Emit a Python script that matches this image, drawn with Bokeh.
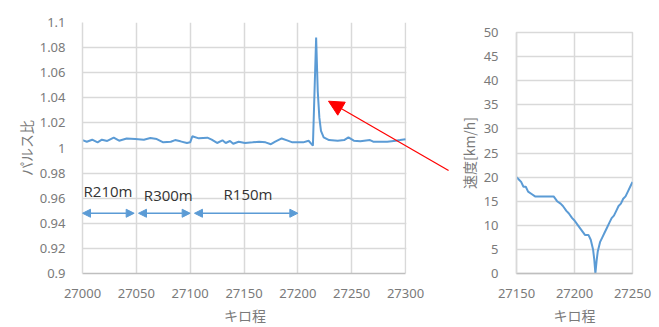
from bokeh.plotting import figure
from bokeh.layouts import row, column
from bokeh.models import (Range1d, FixedTicker, CustomJSTickFormatter, Arrow,
                          NormalHead, Label, BoxAnnotation)
from bokeh.embed import file_html
from bokeh.resources import INLINE

# ---- data: pulse ratio vs kilometrage ----
pulse_km = [27000, 27004, 27009, 27014, 27018, 27023, 27029, 27034, 27041, 27049,
            27057, 27063, 27069, 27075, 27082, 27086, 27091, 27097, 27100, 27102,
            27108, 27116, 27120, 27125, 27130, 27133, 27137, 27140, 27145, 27151,
            27158, 27164, 27170, 27175, 27179, 27185, 27190, 27195, 27200, 27205,
            27210, 27214, 27217, 27218.5, 27220, 27221.5, 27224, 27229, 27237, 27243,
            27247, 27252, 27258, 27267, 27270, 27283, 27291, 27295, 27300]
pulse_ratio = [1.0063, 1.0050, 1.0066, 1.0045, 1.0066, 1.0056, 1.0082, 1.0058, 1.0076, 1.0071,
               1.0066, 1.0079, 1.0071, 1.0045, 1.0050, 1.0063, 1.0053, 1.0040, 1.0045, 1.0093,
               1.0077, 1.0082, 1.0066, 1.0040, 1.0061, 1.0040, 1.0056, 1.0034, 1.0050, 1.0040,
               1.0045, 1.0050, 1.0045, 1.0030, 1.0050, 1.0076, 1.0061, 1.0045, 1.0045, 1.0045,
               1.0058, 1.0019, 1.0880, 1.0450, 1.0242, 1.0137, 1.0085, 1.0063, 1.0058, 1.0063,
               1.0085, 1.0058, 1.0053, 1.0063, 1.0050, 1.0050, 1.0058, 1.0063, 1.0070]

# ---- data: speed vs kilometrage ----
speed_km = [27150, 27152, 27154, 27156, 27158, 27160, 27163, 27166, 27182, 27185,
            27188, 27190, 27193, 27195, 27198, 27200, 27203, 27206, 27209, 27212,
            27214, 27216, 27217, 27218, 27219, 27220, 27222, 27224, 27226, 27228,
            27230, 27232, 27234, 27236, 27238, 27240, 27242, 27244, 27246, 27248, 27250]
speed = [20, 19.5, 19, 18, 18, 17, 16.5, 16, 16, 15,
         14.5, 14, 13, 12.5, 11.5, 11, 10, 9, 8, 8,
         7, 5, 3, 0, 2.5, 4.5, 6.5, 7.5, 8.5, 9.5,
         10.5, 11.5, 12, 13, 14, 14.5, 15.5, 16, 17, 18, 19]

pulse_xticks = [27000, 27050, 27100, 27150, 27200, 27250, 27300]
pulse_yticks = [0.9, 0.92, 0.94, 0.96, 0.98, 1.0, 1.02, 1.04, 1.06, 1.08, 1.1]
speed_xticks = [27150, 27200, 27250]
speed_yticks = [0, 5, 10, 15, 20, 25, 30, 35, 40, 45, 50]

# curve sections: (label, start km, end km, label x, label y)
sections = [("R210m", 27000, 27048, 27001, 0.9654),
            ("R300m", 27052, 27100, 27057, 0.9622),
            ("R150m", 27104, 27200, 27131, 0.9630)]

BLUE = "#5b9bd5"
GRID = "#d9d9d9"
TXT = "#7a7a7a"
TICK_FONT = "Noto Sans"
JP_FONT = "Noto Sans CJK JP"


def style(p):
    p.background_fill_color = "white"
    p.border_fill_color = "white"
    for g in (p.xgrid, p.ygrid):
        g.grid_line_color = GRID
        g.grid_line_width = 1.5
    for ax in (p.xaxis, p.yaxis):
        ax.major_tick_line_color = None
        ax.minor_tick_line_color = None
        ax.major_label_text_color = TXT
        ax.major_label_text_font = TICK_FONT
        ax.major_label_text_font_size = "13px"
        ax.axis_label_text_color = TXT
        ax.axis_label_text_font = JP_FONT
        ax.axis_label_text_font_size = "14px"
        ax.axis_label_text_font_style = "normal"
    p.yaxis.axis_line_color = GRID
    p.yaxis.axis_line_width = 1.5
    p.xaxis.axis_line_color = "#bfbfbf"
    p.xaxis.axis_line_width = 1.5
    p.xaxis.major_label_standoff = 9


fmt = CustomJSTickFormatter(code="return String(Math.round(tick*100)/100);")

# ---- left figure (frame extended to the right so the red arrow can start outside the chart) ----
L_W, L_FRAME_L, L_FRAME_PX = 449, 82, 323        # 27000..27300 spans 323 px
x_end = 27000 + (L_W - L_FRAME_L) * 300.0 / L_FRAME_PX
p1 = figure(width=L_W, height=327, output_backend="svg", toolbar_location=None,
            x_range=Range1d(27000, x_end), y_range=Range1d(0.9, 1.1),
            min_border_left=L_FRAME_L, min_border_right=0, min_border_top=22, min_border_bottom=51)
style(p1)
p1.outline_line_color = None
p1.xaxis.ticker = FixedTicker(ticks=pulse_xticks)
p1.xaxis.bounds = (27000, 27300)
# ideographic spaces shift the centred label back over the visible chart area
p1.xaxis.axis_label = "キロ程\u3000\u3000\u3000"
p1.xaxis.axis_label_standoff = 4
p1.yaxis.ticker = FixedTicker(ticks=pulse_yticks)
p1.yaxis.formatter = fmt
p1.yaxis.axis_label = "パルス比"
p1.yaxis.major_label_standoff = 11
p1.yaxis.axis_label_standoff = 1
p1.line(pulse_km, pulse_ratio, line_color=BLUE, line_width=2)

# blank out the grid beyond the chart's right edge
p1.add_layout(BoxAnnotation(left=27300 + 0.9 * 300.0 / L_FRAME_PX, fill_color="white",
                            fill_alpha=1.0, line_color=None))

for name, x0, x1, lx, ly in sections:
    p1.add_layout(Arrow(x_start=x0, y_start=0.948, x_end=x1, y_end=0.948,
                        line_color=BLUE, line_width=1.5,
                        start=NormalHead(size=8, fill_color=BLUE, line_color=BLUE),
                        end=NormalHead(size=8, fill_color=BLUE, line_color=BLUE)))
    p1.add_layout(Label(x=lx, y=ly, text=name, text_font="Open Sans", text_font_size="15px",
                        text_color="#333333", text_baseline="alphabetic", text_align="left"))

p1.add_layout(Arrow(x_start=27340, y_start=0.982, x_end=27228.5, y_end=1.0373,
                    line_color="#ff0000", line_width=1.2,
                    end=NormalHead(size=15, fill_color="#ff0000", line_color="#ff0000")))

# ---- right figure ----
p2 = figure(width=659 - L_W, height=327, output_backend="svg", toolbar_location=None,
            x_range=Range1d(27150, 27250), y_range=Range1d(0, 50),
            min_border_left=67, min_border_right=27, min_border_top=32, min_border_bottom=53)
style(p2)
p2.outline_line_color = GRID
p2.outline_line_width = 1.5
p2.xaxis.ticker = FixedTicker(ticks=speed_xticks)
p2.xaxis.axis_label = "キロ程"
p2.xaxis.axis_label_standoff = 4
p2.yaxis.ticker = FixedTicker(ticks=speed_yticks)
p2.yaxis.axis_label = "速度[km/h]"
p2.yaxis.major_label_standoff = 12
p2.yaxis.axis_label_standoff = 2
p2.line(speed_km, speed, line_color=BLUE, line_width=2)

layout = row(p1, column(p2))
open("out.html", "w").write(file_html(layout, INLINE))
